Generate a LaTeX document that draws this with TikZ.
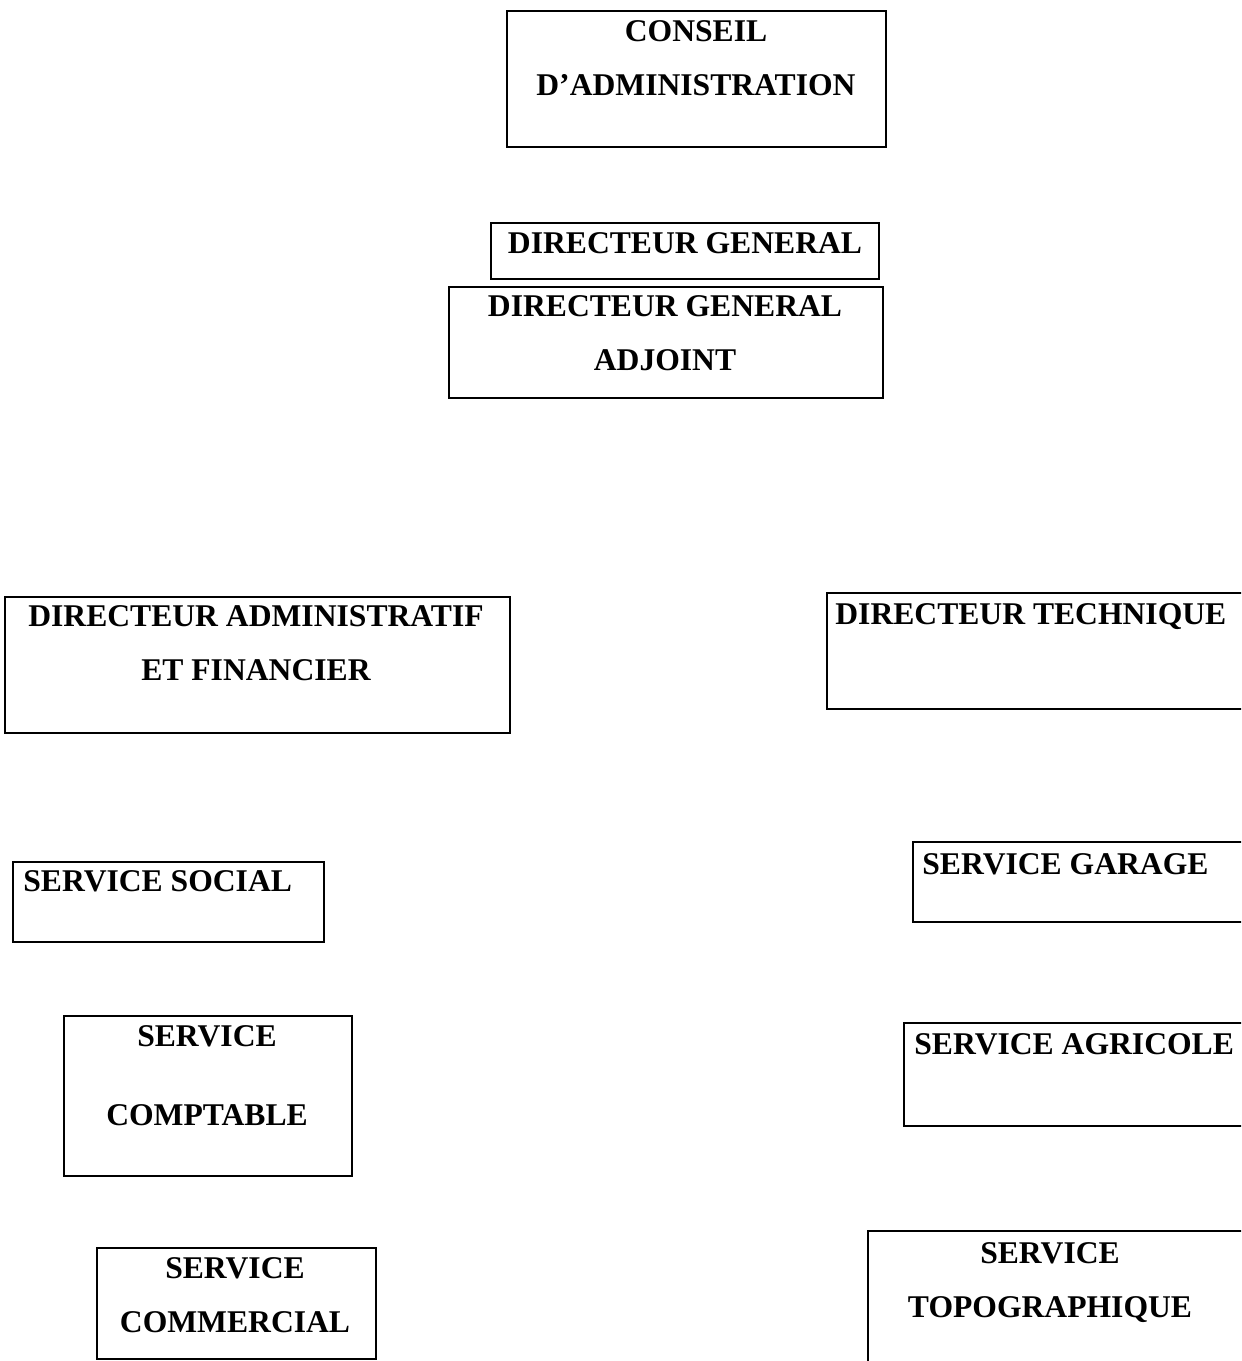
\documentclass[tikz,border=0pt]{standalone}
\usepackage{fontspec}
\setmainfont{Liberation Serif}
\tikzset{
  every picture/.style={font=\fontsize{18}{30.6}\selectfont\bfseries},
  cadre/.style={draw=black, line width=1.4pt, inner sep=0pt},
  titre/.style={align=center, inner sep=0pt, anchor=north},
  titreg/.style={align=left, inner sep=0pt, anchor=north west},
}
\begin{document}
\begin{tikzpicture}[x=0.02cm, y=-0.02cm]
  \useasboundingbox (0,0) rectangle (1241,1361);
  \clip (0,0) rectangle (1241,1361);
  % direction
  \node[cadre, minimum width=7.58cm, minimum height=2.72cm] (CA) at (696.5,79) {};
  \node[titre] (CAt) at (696,20) {CONSEIL\\D’ADMINISTRATION};
  \node[cadre, minimum width=7.76cm, minimum height=1.12cm] (DG) at (685,251) {};
  \node[titre] (DGt) at (685,232) {DIRECTEUR GENERAL};
  \node[cadre, minimum width=8.68cm, minimum height=2.22cm] (DGA) at (666,342.5) {};
  \node[titre] (DGAt) at (665,295) {DIRECTEUR GENERAL\\ADJOINT};
  % directeurs
  \node[cadre, minimum width=10.1cm, minimum height=2.72cm] (DAF) at (257.5,665) {};
  \node[titre] (DAFt) at (256,605) {DIRECTEUR ADMINISTRATIF\\ET FINANCIER};
  \node[cadre, minimum width=8.66cm, minimum height=2.32cm] (DT) at (1043.5,651) {};
  \node[titreg] (DTt) at (835,603) {DIRECTEUR TECHNIQUE};
  % services
  \node[cadre, minimum width=6.22cm, minimum height=1.6cm] (SS) at (168.5,902) {};
  \node[titreg] (SSt) at (23,870) {SERVICE SOCIAL};
  \node[cadre, minimum width=5.76cm, minimum height=3.2cm] (SC) at (208,1096) {};
  \node[titre] (SCt) at (207,1025) {SERVICE\\[14.7pt]COMPTABLE};
  \node[cadre, minimum width=5.58cm, minimum height=2.22cm] (SM) at (236.5,1303.5) {};
  \node[titre] (SMt) at (235,1257) {SERVICE\\COMMERCIAL};
  \node[cadre, minimum width=6.94cm, minimum height=1.6cm] (SG) at (1086.5,882) {};
  \node[titreg] (SGt) at (922,853) {SERVICE GARAGE};
  \node[cadre, minimum width=7.12cm, minimum height=2.06cm] (SA) at (1082,1074.5) {};
  \node[titreg] (SAt) at (914,1033) {SERVICE AGRICOLE};
  \node[cadre, minimum width=7.84cm, minimum height=3.38cm] (ST) at (1064,1315.5) {};
  \node[titre] (STt) at (1050,1242) {SERVICE\\TOPOGRAPHIQUE};
\end{tikzpicture}
\end{document}
